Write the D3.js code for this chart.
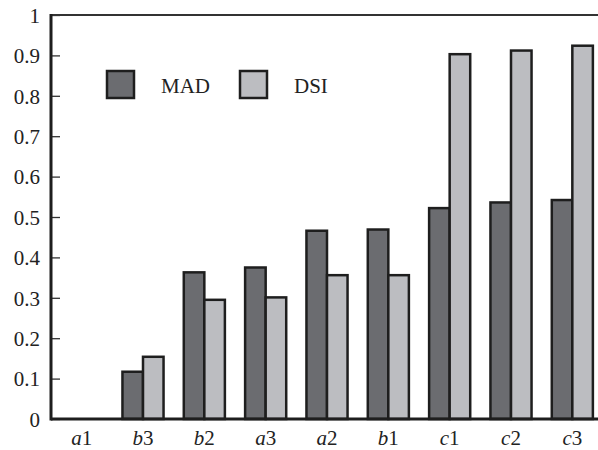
<!DOCTYPE html>
<meta charset="utf-8">
<script src="https://d3js.org/d3.v7.min.js"></script>
<style>
  body { margin: 0; background: #fff; }
  text { font-family: "Liberation Serif", "DejaVu Serif", serif; fill: #222; }
</style>
<div id="chart"></div>
<script>
// data
var categories = ["a1", "b3", "b2", "a3", "a2", "b1", "c1", "c2", "c3"];
var series = ["MAD", "DSI"];
var madValues = [0, 0.117, 0.363, 0.375, 0.466, 0.469, 0.522, 0.536, 0.542];
var dsiValues = [0, 0.154, 0.295, 0.301, 0.356, 0.356, 0.903, 0.912, 0.924];
var yTicks = [0, 0.1, 0.2, 0.3, 0.4, 0.5, 0.6, 0.7, 0.8, 0.9, 1];

var colors = {MAD: "#6b6c70", DSI: "#bcbdc1"};

var W = 598, H = 450;
var plotLeft = 51, plotTop = 15, plotBottom = 419;

var svg = d3.select("#chart").append("svg")
    .attr("width", W).attr("height", H);

var x = d3.scaleBand()
    .domain(categories)
    .range([plotLeft, 603])
    .paddingInner(0.33)
    .paddingOuter(0.165);

var xs = d3.scaleBand()
    .domain(series)
    .range([0, x.bandwidth()]);

var y = d3.scaleLinear()
    .domain([0, 1])
    .range([plotBottom, plotTop]);

var rows = categories.map(function (c, i) {
  return {cat: c, MAD: madValues[i], DSI: dsiValues[i]};
});

// bars
var groups = svg.append("g").selectAll("g")
    .data(rows)
    .enter().append("g")
    .attr("transform", function (d) { return "translate(" + x(d.cat) + ",0)"; });

groups.selectAll("rect")
    .data(function (d) {
      return series.filter(function (s) { return d[s] > 0; })
        .map(function (s) { return {key: s, value: d[s]}; });
    })
    .enter().append("rect")
    .attr("x", function (d) { return xs(d.key); })
    .attr("y", function (d) { return y(d.value); })
    .attr("width", xs.bandwidth())
    .attr("height", function (d) { return y(0) - y(d.value); })
    .attr("fill", function (d) { return colors[d.key]; })
    .attr("stroke", "#1e1e1e")
    .attr("stroke-width", 2.5);

// y axis with inward ticks
var yAxis = svg.append("g")
    .attr("transform", "translate(" + plotLeft + ",0)")
    .call(d3.axisRight(y).tickValues(yTicks).tickSize(9)
      .tickFormat(function (d) { return d === 0 || d === 1 ? d : d3.format(".1f")(d); }));
yAxis.select(".domain").remove();
yAxis.selectAll(".tick line").attr("stroke", "#333").attr("stroke-width", 1.3);
yAxis.selectAll(".tick text")
    .attr("x", -11)
    .attr("text-anchor", "end")
    .attr("dy", "0.35em")
    .style("font-size", "21px");

// frame lines
svg.append("line")
    .attr("x1", plotLeft).attr("x2", W).attr("y1", plotTop).attr("y2", plotTop)
    .attr("stroke", "#333").attr("stroke-width", 2.2);
svg.append("line")
    .attr("x1", plotLeft).attr("x2", plotLeft).attr("y1", plotTop - 1).attr("y2", plotBottom + 1.5)
    .attr("stroke", "#1e1e1e").attr("stroke-width", 3);
svg.append("line")
    .attr("x1", plotLeft).attr("x2", W).attr("y1", plotBottom).attr("y2", plotBottom)
    .attr("stroke", "#1e1e1e").attr("stroke-width", 3);

// category labels: italic letter, upright digit
var xl = svg.append("g").selectAll("text")
    .data(categories)
    .enter().append("text")
    .attr("x", function (d) { return x(d) + x.bandwidth() / 2; })
    .attr("y", 445)
    .attr("text-anchor", "middle")
    .style("font-size", "21px");
xl.append("tspan").style("font-style", "italic").text(function (d) { return d[0]; });
xl.append("tspan").text(function (d) { return d.slice(1); });

// legend
var legendX = [107, 240];
var legend = svg.append("g").selectAll("g")
    .data(series)
    .enter().append("g")
    .attr("transform", function (d, i) { return "translate(" + legendX[i] + ",71)"; });
legend.append("rect")
    .attr("width", 27).attr("height", 27)
    .attr("fill", function (d) { return colors[d]; })
    .attr("stroke", "#1e1e1e").attr("stroke-width", 2.5);
legend.append("text")
    .attr("x", 54).attr("y", 22)
    .style("font-size", "21px")
    .text(function (d) { return d; });
</script>
